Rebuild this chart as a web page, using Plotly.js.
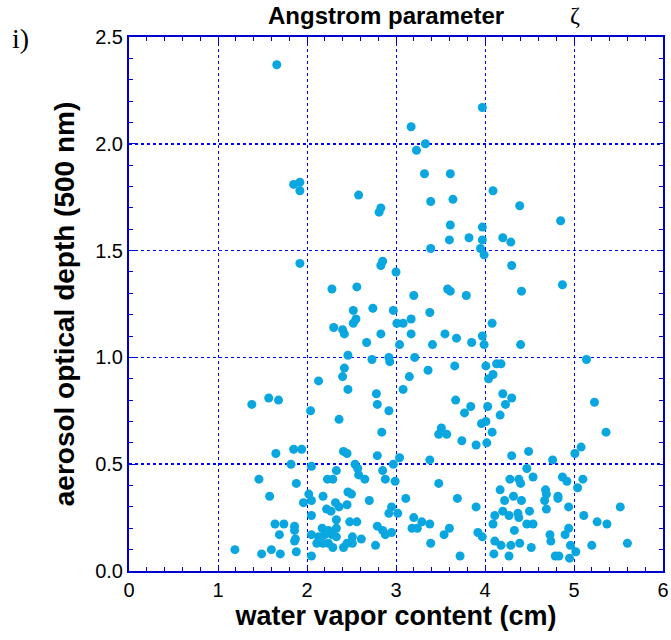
<!DOCTYPE html>
<html>
<head>
<meta charset="utf-8">
<script src="https://cdn.plot.ly/plotly-3.0.1.min.js"></script>
<style>html,body{margin:0;padding:0;background:#fff;}#chart{width:671px;height:640px;}</style>
</head>
<body>
<div id="chart"></div>
<script>
// water vapor content (cm)
const waterVapor = [
1.66,3.97,3.17,3.33,3.23,3.32,3.61,1.92,1.85,1.92,4.09,2.58,3.64,3.39,4.39,2.83,2.81,4.85,3.61,3.97,
3.82,3.60,3.97,4.20,4.29,3.39,3.95,3.99,1.92,2.85,2.83,4.30,3.00,4.87,2.56,2.28,3.58,3.61,4.41,3.20,
3.79,2.74,2.52,2.97,3.38,2.55,3.17,3.08,3.01,2.52,4.08,2.30,2.40,2.42,2.83,3.17,3.55,3.97,3.68,2.67,
3.04,3.41,3.85,3.99,4.40,2.46,2.73,2.92,2.93,3.21,5.14,2.42,3.66,4.01,4.13,4.18,2.40,3.15,3.36,4.04,
4.09,2.13,2.46,3.08,4.20,2.78,1.57,1.68,1.38,3.67,4.30,5.23,2.79,3.77,3.84,4.03,4.23,2.04,2.92,4.17,
2.36,3.96,4.01,3.51,3.48,3.57,2.84,4.08,5.36,3.74,3.90,4.02,5.08,1.65,1.85,1.94,2.41,2.45,2.79,3.04,
3.38,4.30,4.49,5.01,4.76,1.82,2.05,2.54,2.57,2.97,2.33,2.85,4.47,4.54,2.58,2.65,1.46,1.88,2.23,2.29,
2.88,2.99,4.28,4.38,4.40,4.87,4.92,5.10,3.48,5.04,2.46,2.50,2.02,2.18,1.58,2.05,1.96,2.70,3.11,3.69,
4.17,4.68,4.69,4.32,4.82,4.82,4.22,4.41,4.67,2.32,2.22,2.27,2.36,2.45,2.95,3.90,4.69,4.94,5.52,2.92,
3.02,2.05,2.33,2.48,2.56,3.20,4.11,4.20,4.27,4.38,4.37,4.50,5.11,1.64,1.74,1.86,1.86,2.17,2.24,2.33,
2.79,2.85,2.88,2.95,3.29,3.38,3.18,3.24,3.60,4.09,4.47,4.54,5.26,5.37,4.94,4.33,3.92,3.54,4.73,4.90,
1.69,1.87,1.86,2.05,2.13,2.20,2.28,2.33,2.51,2.61,3.97,4.11,2.11,2.18,2.24,2.29,2.41,2.45,2.51,2.77,
3.39,4.74,4.18,4.29,4.39,4.52,4.96,5.02,5.20,5.60,1.19,1.49,1.60,1.70,1.88,2.05,4.10,4.27,3.72,4.79,
4.83,4.95
];
// aerosol optical depth (500 nm)
const opticalDepth = [
2.37,2.17,2.08,2.00,1.97,1.86,1.86,1.82,1.81,1.78,1.78,1.76,1.74,1.73,1.71,1.70,1.68,1.64,1.62,1.61,
1.56,1.55,1.55,1.56,1.54,1.51,1.51,1.48,1.44,1.45,1.43,1.43,1.40,1.34,1.33,1.32,1.32,1.31,1.31,1.29,
1.29,1.23,1.22,1.22,1.21,1.18,1.18,1.16,1.16,1.16,1.16,1.14,1.13,1.11,1.11,1.11,1.11,1.10,1.09,1.07,
1.06,1.06,1.07,1.06,1.06,1.01,0.99,1.00,0.98,1.00,0.99,0.95,0.96,0.96,0.97,0.97,0.91,0.91,0.94,0.90,
0.92,0.89,0.85,0.85,0.83,0.83,0.81,0.80,0.78,0.80,0.81,0.79,0.78,0.74,0.77,0.77,0.78,0.75,0.75,0.73,
0.71,0.69,0.70,0.67,0.64,0.64,0.65,0.65,0.65,0.61,0.59,0.60,0.58,0.55,0.57,0.57,0.56,0.55,0.54,0.53,
0.52,0.54,0.56,0.55,0.52,0.50,0.49,0.50,0.48,0.50,0.47,0.47,0.48,0.44,0.45,0.43,0.43,0.41,0.43,0.43,
0.43,0.42,0.43,0.43,0.41,0.44,0.42,0.43,0.41,0.39,0.37,0.36,0.36,0.35,0.35,0.33,0.32,0.33,0.34,0.34,
0.38,0.38,0.36,0.35,0.35,0.34,0.33,0.33,0.33,0.32,0.29,0.28,0.30,0.31,0.30,0.30,0.29,0.30,0.30,0.27,
0.27,0.26,0.24,0.23,0.23,0.25,0.26,0.28,0.26,0.25,0.27,0.28,0.26,0.22,0.22,0.21,0.19,0.20,0.19,0.20,
0.21,0.19,0.17,0.18,0.23,0.22,0.20,0.20,0.20,0.22,0.22,0.22,0.23,0.22,0.20,0.19,0.18,0.17,0.17,0.17,
0.17,0.15,0.14,0.17,0.16,0.17,0.17,0.16,0.16,0.15,0.16,0.14,0.13,0.13,0.13,0.11,0.11,0.13,0.13,0.12,
0.13,0.14,0.12,0.12,0.13,0.11,0.12,0.09,0.12,0.13,0.10,0.08,0.10,0.08,0.09,0.07,0.08,0.07,0.07,0.07,
0.07,0.06
];
const xTickVals = [0,1,2,3,4,5,6];
const xTickText = ['0','1','2','3','4','5','6'];
const yTickVals = [0,0.5,1,1.5,2,2.5];
const yTickText = ['0.0','0.5','1.0','1.5','2.0','2.5'];

const blue = '#0000cc';
const sans = 'Liberation Sans, Arial, sans-serif';
const serif = 'Liberation Serif, Times New Roman, serif';

const trace = {
  x: waterVapor, y: opticalDepth, type: 'scatter', mode: 'markers',
  marker: {size: 9, color: '#0aa6e0', line: {width: 0}},
  hoverinfo: 'none', cliponaxis: true
};

const axisCommon = {
  showline: true, linecolor: blue, linewidth: 2, mirror: 'allticks',
  ticks: 'inside', ticklen: 6, tickwidth: 1, tickcolor: blue,
  showgrid: true, gridcolor: '#0000ff', griddash: 'dot',
  zeroline: false, automargin: false,
  tickfont: {family: sans, size: 20, color: '#000'}
};

const layout = {
  width: 671, height: 640,
  margin: {l: 129, r: 8, t: 37, b: 69, pad: 0},
  paper_bgcolor: '#fff', plot_bgcolor: '#fff',
  showlegend: false,
  xaxis: Object.assign({}, axisCommon, {
    range: [0, 6], tickmode: 'array', tickvals: xTickVals, ticktext: xTickText, gridwidth: 1,
    minor: {dtick: 0.2, tick0: 0, ticks: 'inside', ticklen: 4, tickcolor: blue, showgrid: false},
    title: {text: '<b>water vapor content (cm)</b>', font: {family: sans, size: 27, color: '#000'}, standoff: 4}
  }),
  yaxis: Object.assign({}, axisCommon, {
    range: [0, 2.5], tickmode: 'array', tickvals: yTickVals, ticktext: yTickText, gridwidth: 1.5,
    minor: {dtick: 0.1, tick0: 0, ticks: 'inside', ticklen: 4, tickcolor: blue, showgrid: false},
    title: {text: '<b>aerosol optical depth (500 nm)</b>', font: {family: sans, size: 28, color: '#000'}, standoff: 12}
  }),
  annotations: [
    {text: '<b>Angstrom parameter</b>', xref: 'paper', yref: 'paper', x: 0.481, y: 1.040,
     xanchor: 'center', yanchor: 'middle', showarrow: false, font: {family: sans, size: 24, color: '#000'}},
    {text: 'ζ', xref: 'paper', yref: 'paper', x: 0.835, y: 1.042,
     xanchor: 'center', yanchor: 'middle', showarrow: false, font: {family: serif, size: 24, color: '#000'}},
    {text: 'i)', xref: 'paper', yref: 'paper', x: -0.203, y: 0.998,
     xanchor: 'center', yanchor: 'middle', showarrow: false, font: {family: serif, size: 28, color: '#000'}}
  ]
};

Plotly.newPlot('chart', [trace], layout, {staticPlot: true, displayModeBar: false});
</script>
</body>
</html>
